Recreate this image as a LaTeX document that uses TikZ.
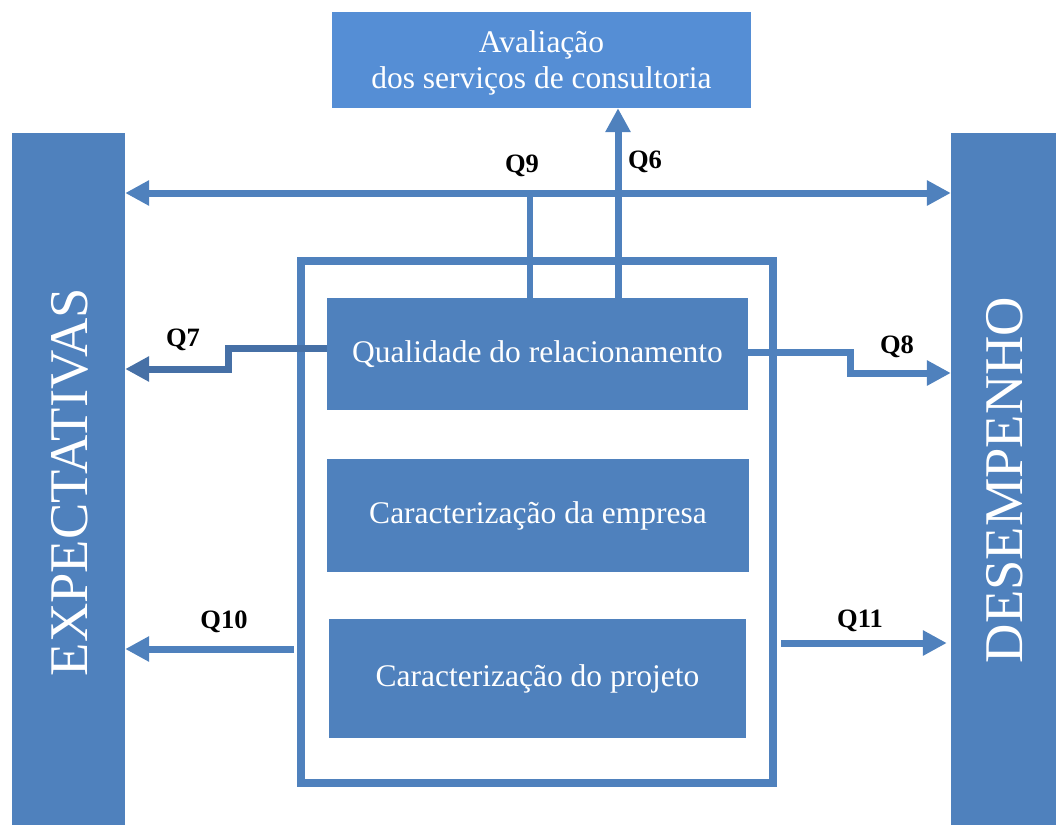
\documentclass[tikz,border=0pt]{standalone}
\usepackage{fontspec}
\setmainfont{Liberation Serif}
\usetikzlibrary{arrows.meta,calc}
\definecolor{bl}{HTML}{4F81BD}
\definecolor{lb}{HTML}{558ED5}
\definecolor{db}{HTML}{4670A6}
\tikzset{
  bar/.style={fill=bl,draw=none,inner sep=0pt},
  inbox/.style={fill=bl,draw=none,inner sep=0pt,text=white,font=\fontsize{31.5}{36}\selectfont,align=center},
  conn/.style={draw=bl,line width=7pt},
  tip/.style={-{Triangle[length=24pt,width=24pt]}},
  lab/.style={font=\bfseries\fontsize{26.5}{30}\selectfont,inner sep=0pt}
}
\begin{document}
\begin{tikzpicture}[x=1pt,y=-1pt]
\useasboundingbox (0,0) rectangle (1056,825);
% side bars
\node[bar,minimum width=113pt,minimum height=692pt] (exp) at (68.5,479) {};
\node[rotate=90,text=white,font=\fontsize{54.5}{60}\selectfont] at (70,482) {EXPECTATIVAS};
\node[bar,minimum width=105pt,minimum height=692pt] (des) at (1003.5,479) {};
\node[rotate=90,text=white,font=\fontsize{54.5}{60}\selectfont] at (1005,480) {DESEMPENHO};
% top box
\node[fill=lb,inner sep=0pt,minimum width=419pt,minimum height=96pt] (aval) at (541.5,60) {};
\node[text=white,align=center,font=\fontsize{31.5}{36}\selectfont] at (541.5,63) {Avaliação\\dos serviços de consultoria};
% frame
\node[draw=bl,line width=8pt,minimum width=472pt,minimum height=522pt,inner sep=0pt] (frame) at (537,522) {};
% inner boxes
\node[inbox,minimum width=421pt,minimum height=112pt] (qual) at (537.5,354) {\raisebox{-3pt}{Qualidade do relacionamento}};
\node[inbox,minimum width=422pt,minimum height=113pt] (emp) at (538,515.5) {\raisebox{-3pt}{Caracterização da empresa}};
\node[inbox,minimum width=417pt,minimum height=119pt] (proj) at (537.5,678.5) {\raisebox{-3pt}{Caracterização do projeto}};
% Q9
\coordinate (q9) at (530,193);
\draw[conn,{Triangle[length=24pt,width=24pt]}-{Triangle[length=24pt,width=24pt]}] (exp.east |- q9) -- (des.west |- q9);
\draw[draw=bl,line width=6pt] (qual.north -| q9) -- (q9);
\node[lab] at (522,166) {Q9};
% Q6
\coordinate (q6) at (618,0);
\draw[conn,tip] (qual.north -| q6) -- (aval.south -| q6);
\node[lab] at (645,162) {Q6};
% Q7
\coordinate (q7a) at (228,348);
\coordinate (q7b) at (228,369);
\draw[draw=db,line width=7pt,tip] (qual.west |- q7a) -- (q7a) -- (q7b) -- (exp.east |- q7b);
\node[lab] at (183,340) {Q7};
% Q8
\coordinate (q8a) at (850,352);
\coordinate (q8b) at (850,373);
\draw[conn,tip] (qual.east |- q8a) -- (q8a) -- (q8b) -- (des.west |- q8b);
\node[lab] at (897,347) {Q8};
% Q10
\coordinate (q10) at (0,649);
\draw[conn,tip] ([xshift=-3pt]frame.west |- q10) -- (exp.east |- q10);
\node[lab] at (224,622) {Q10};
% Q11
\coordinate (q11) at (0,643);
\draw[conn,tip] ([xshift=4pt]frame.east |- q11) -- ([xshift=-4pt]des.west |- q11);
\node[lab] at (860,621) {Q11};
\end{tikzpicture}
\end{document}
